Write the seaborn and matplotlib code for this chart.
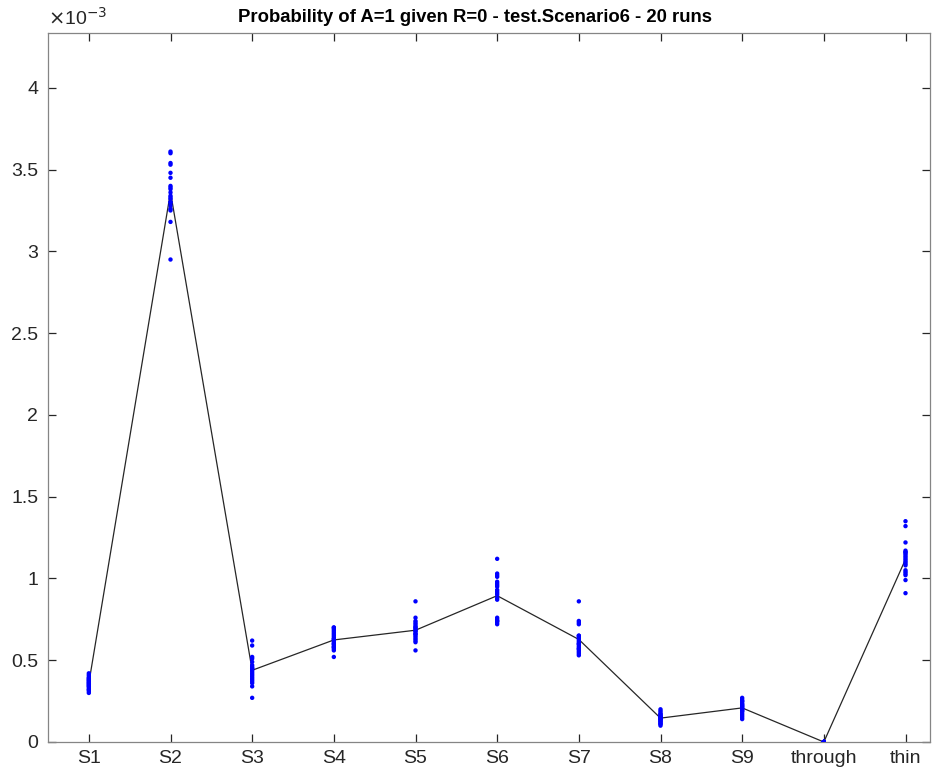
import numpy as np
import pandas as pd
import matplotlib
matplotlib.use("Agg")
import matplotlib.pyplot as plt
import seaborn as sns

categories = ["S1", "S2", "S3", "S4", "S5", "S6", "S7", "S8", "S9", "through", "thin"]

# values in units of 1e-3, 20 runs per category
s1 = [0.30, 0.31, 0.32, 0.32, 0.33, 0.34, 0.34, 0.35, 0.35, 0.36,
      0.36, 0.37, 0.37, 0.38, 0.38, 0.39, 0.39, 0.40, 0.41, 0.42]
s2 = [3.61, 3.60, 3.54, 3.53, 3.48, 3.45, 3.40, 3.39, 3.38, 3.36,
      3.34, 3.33, 3.32, 3.30, 3.28, 3.26, 3.25, 3.18, 2.95, 3.30]
s3 = [0.62, 0.59, 0.52, 0.51, 0.49, 0.47, 0.45, 0.44, 0.40, 0.38,
      0.36, 0.34, 0.27, 0.46, 0.43, 0.42, 0.41, 0.39, 0.37, 0.45]
s4 = [0.70, 0.70, 0.69, 0.68, 0.67, 0.66, 0.65, 0.64, 0.63, 0.63,
      0.62, 0.61, 0.60, 0.60, 0.59, 0.58, 0.58, 0.57, 0.56, 0.52]
s5 = [0.86, 0.76, 0.74, 0.73, 0.72, 0.71, 0.70, 0.70, 0.69, 0.68,
      0.68, 0.67, 0.66, 0.66, 0.65, 0.64, 0.63, 0.62, 0.61, 0.56]
s6 = [1.12, 1.03, 1.02, 1.01, 0.98, 0.97, 0.96, 0.95, 0.93, 0.92,
      0.91, 0.90, 0.88, 0.87, 0.76, 0.75, 0.74, 0.74, 0.72, 0.73]
s7 = [0.86, 0.74, 0.73, 0.72, 0.65, 0.65, 0.64, 0.63, 0.62, 0.61,
      0.60, 0.60, 0.59, 0.58, 0.57, 0.57, 0.56, 0.55, 0.54, 0.53]
s8 = [0.20, 0.19, 0.18, 0.17, 0.17, 0.16, 0.16, 0.15, 0.15, 0.15,
      0.14, 0.14, 0.14, 0.13, 0.13, 0.12, 0.12, 0.11, 0.11, 0.10]
s9 = [0.27, 0.26, 0.25, 0.25, 0.24, 0.23, 0.23, 0.22, 0.22, 0.21,
      0.21, 0.20, 0.20, 0.19, 0.19, 0.18, 0.17, 0.16, 0.15, 0.14]
through = [0.0] * 20
thin = [1.35, 1.32, 1.22, 1.17, 1.16, 1.15, 1.14, 1.13, 1.12, 1.11,
        1.10, 1.09, 1.08, 1.05, 1.04, 1.03, 1.02, 0.99, 0.91, 1.16]

series = [s1, s2, s3, s4, s5, s6, s7, s8, s9, through, thin]
yticks = [0, 0.5, 1, 1.5, 2, 2.5, 3, 3.5, 4]
ytick_labels = ["0", "0.5", "1", "1.5", "2", "2.5", "3", "3.5", "4"]

rows = []
for i, (cat, vals) in enumerate(zip(categories, series)):
    for v in vals:
        rows.append({"pos": i + 1, "cat": cat, "value": v})
df = pd.DataFrame(rows)

sns.set_theme(style="white")
plt.rcParams["font.family"] = ["Liberation Sans", "DejaVu Sans"]

fig = plt.figure(figsize=(9.38, 7.78), dpi=100)
ax = fig.add_axes([48 / 938, 1 - 742 / 778, (930 - 48) / 938, (742 - 33) / 778])

sns.lineplot(data=df, x="pos", y="value", estimator="mean", errorbar=None,
             color="#262626", linewidth=0.9, ax=ax)
sns.scatterplot(data=df, x="pos", y="value", color="#0000ff", s=10,
                edgecolor="none", linewidth=0, ax=ax, zorder=3)

ax.set_xlim(0.5, 11.3)
ax.set_ylim(0, 4.335)
ax.set_xticks(range(1, len(categories) + 1))
ax.set_xticklabels(categories)
ax.set_yticks(yticks)
ax.set_yticklabels(ytick_labels)
ax.set_xlabel("")
ax.set_ylabel("")

for sp in ax.spines.values():
    sp.set_color("#858585")
    sp.set_linewidth(0.9)
ax.tick_params(axis="both", which="both", direction="in", length=6, width=0.9,
               color="#262626", labelcolor="#262626", labelsize=14,
               top=True, right=True, bottom=True, left=True)
ax.tick_params(axis="x", pad=6)
ax.tick_params(axis="y", pad=7)

fig.text(475 / 938, 1 - 17 / 778,
         "Probability of A=1 given R=0 - test.Scenario6 - 20 runs",
         fontsize=13.3, fontweight="bold", color="#000000",
         ha="center", va="center")
ax.text(0.0, 1.006, r"$\times$10$^{-3}$", transform=ax.transAxes,
        fontsize=14, color="#262626", ha="left", va="bottom")

fig.savefig("out.png", dpi=100)
